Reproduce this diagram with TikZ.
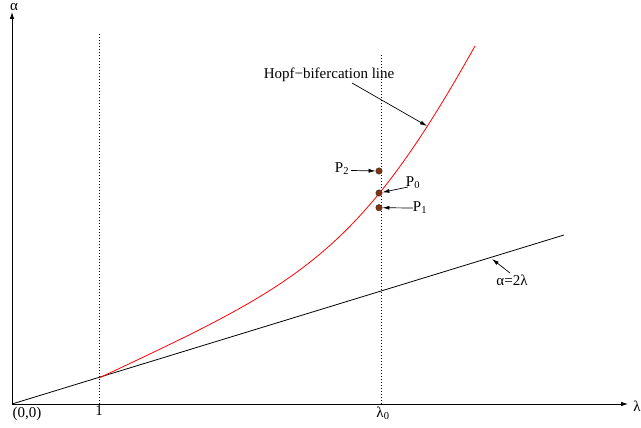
\documentclass[tikz,border=0pt]{standalone}
\usepackage{fontspec}
\setmainfont{Liberation Serif}
\usetikzlibrary{arrows.meta}
\definecolor{dotbrown}{RGB}{130,50,12}
\tikzset{
  axis/.style={line width=0.8pt,-{Latex[length=7pt,width=4.5pt]}},
  guide/.style={line width=0.6pt,dash pattern=on 0.8pt off 2.2pt},
  ptr/.style={line width=0.7pt,-{Latex[length=7pt,width=4pt]}},
  lbl/.style={inner sep=0pt,font=\fontsize{15}{18}\selectfont},
  pdot/.style={circle,fill=dotbrown,draw=black!80,line width=0.4pt,inner sep=0pt,minimum size=6.5pt}
}
\begin{document}
\begin{tikzpicture}[x=1pt,y=-1pt]
\useasboundingbox (0,0) rectangle (641,428);
% axes
\coordinate (O) at (12,404);
\coordinate (xend) at (628,404);
\coordinate (yend) at (12,12);
\draw[axis] (O) -- (xend);
\draw[axis] (O) -- (yend);
\node[lbl] (lam) at (637,406) {λ};
\node[lbl] (alp) at (14,7) {α};
\node[lbl] (orig) at (27,414) {(0,0)};
\node[lbl] (one) at (99,411) {1};
\node[lbl] (lam0) at (383,413) {λ\textsubscript{0}};
% dotted guides
\coordinate (g1b) at (99,404);
\coordinate (g1t) at (99,33);
\coordinate (g2b) at (381.5,404);
\coordinate (g2t) at (381.5,55);
\draw[guide] (g1b) -- (g1t);
\draw[guide] (g2b) -- (g2t);
% line alpha = 2 lambda
\coordinate (lend) at (564,235);
\draw[line width=0.8pt] (O) -- (lend);
% Hopf curve
\coordinate (c0) at (99,378);
\coordinate (c3) at (475,46);
\draw[red,line width=0.8pt] (c0) .. controls (299,284) and (357,257) .. (c3);
% points
\node[pdot] (P2) at (379,171) {};
\node[pdot] (P0) at (379,193) {};
\node[pdot] (P1) at (379,207.7) {};
\node[lbl] (P2l) at (342,169) {P\textsubscript{2}};
\node[lbl] (P0l) at (413,183) {P\textsubscript{0}};
\node[lbl] (P1l) at (420,208) {P\textsubscript{1}};
\draw[ptr] (P2l.east) ++(2,1.5) coordinate (a2) -- (P2);
\draw[ptr] (408,187) coordinate (a0) -- (P0);
\draw[ptr] (413,208) coordinate (a1) -- (P1);
% labels with pointers
\node[lbl] (hopf) at (329,75) {Hopf−bifercation line};
\coordinate (hopftip) at (427,126);
\draw[ptr] (352,83) coordinate (h0) -- (hopftip);
\node[lbl] (lin) at (512,280) {α=2λ};
\coordinate (lintip) at (492,259);
\draw[ptr] (510,273) coordinate (l0) -- (lintip);
\end{tikzpicture}
\end{document}
